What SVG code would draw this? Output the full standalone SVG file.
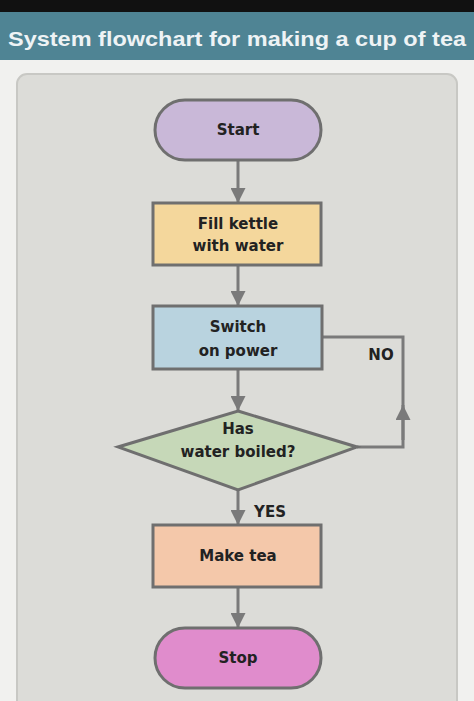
<svg xmlns="http://www.w3.org/2000/svg" width="474" height="701" viewBox="0 0 474 701">
<style>
.n{stroke:#6f6f6f;stroke-width:3}
.t{font-family:"DejaVu Sans",sans-serif;font-weight:bold;font-size:15px;fill:#222;text-anchor:middle}
.c{fill:none;stroke:#7a7a7a;stroke-width:3}
</style>
<defs><marker id="a" viewBox="0 0 10 10" refX="10" refY="5" markerWidth="5" markerHeight="5" orient="auto"><path d="M0,0L10,5L0,10z" fill="#7a7a7a"/></marker></defs>
<rect width="474" height="701" fill="#f1f1ef"/>
<rect width="474" height="12" fill="#111"/>
<rect y="12" width="474" height="48" fill="#4f8494"/>
<text x="237" y="46" font-family="Liberation Sans,Arial,sans-serif" font-weight="bold" font-size="21" fill="#eef3f5" text-anchor="middle" textLength="458" lengthAdjust="spacingAndGlyphs">System flowchart for making a cup of tea</text>
<rect x="17" y="74" width="440" height="640" rx="10" fill="#dcdcd8" stroke="#c8c8c4" stroke-width="2"/>
<g id="connectors">
<path class="c" d="M238,160V203" marker-end="url(#a)"/>
<path class="c" d="M238,265V306" marker-end="url(#a)"/>
<path class="c" d="M238,369V411" marker-end="url(#a)"/>
<path class="c" d="M238,490V525" marker-end="url(#a)"/>
<path class="c" d="M238,587V628" marker-end="url(#a)"/>
<path class="c" d="M357,447H403V337H322"/>
<path class="c" d="M403,440V405" marker-end="url(#a)"/>
<text class="t" x="381" y="360">NO</text>
<text class="t" x="270" y="517">YES</text>
</g>
<g id="start"><rect class="n" x="155" y="100" width="166" height="60" rx="30" fill="#c9b8d8"/><text class="t" x="238" y="135">Start</text></g>
<g id="fill"><rect class="n" x="153" y="203" width="168" height="62" fill="#f4d79c"/><text class="t" x="238" y="229">Fill kettle</text><text class="t" x="238" y="251">with water</text></g>
<g id="switch"><rect class="n" x="153" y="306" width="169" height="63" fill="#b9d3df"/><text class="t" x="238" y="332">Switch</text><text class="t" x="238" y="356">on power</text></g>
<g id="boiled"><path class="n" d="M238,411L357,447L238,490L118,447z" fill="#c6d8b8"/><text class="t" x="238" y="434">Has</text><text class="t" x="238" y="457">water boiled?</text></g>
<g id="make"><rect class="n" x="153" y="525" width="168" height="62" fill="#f4c8aa"/><text class="t" x="238" y="561">Make tea</text></g>
<g id="stop"><rect class="n" x="155" y="628" width="166" height="60" rx="30" fill="#e08ccc"/><text class="t" x="238" y="663">Stop</text></g>
</svg>
